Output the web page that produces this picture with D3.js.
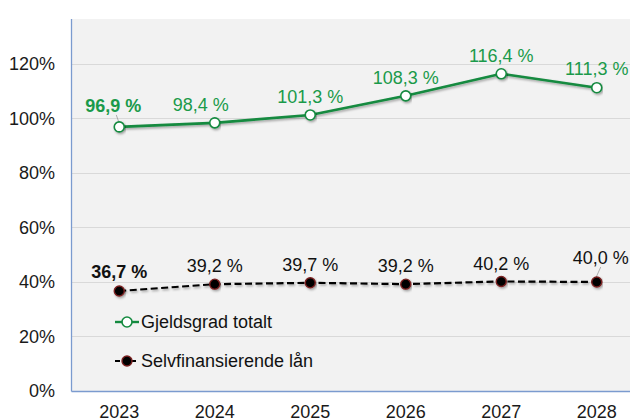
<!DOCTYPE html>
<html>
<head>
<meta charset="utf-8">
<script src="https://cdn.jsdelivr.net/npm/d3@7"></script>
<style>
  html, body { margin: 0; padding: 0; background: #ffffff; }
  svg { display: block; font-family: "Liberation Sans", Arial, sans-serif; }
</style>
</head>
<body>
<svg id="chart" width="630" height="419"></svg>
<script>
const years = ["2023", "2024", "2025", "2026", "2027", "2028"];
const gjeldsgradTotalt = [96.9, 98.4, 101.3, 108.3, 116.4, 111.3];
const selvfinansierendeLan = [36.7, 39.2, 39.7, 39.2, 40.2, 40.0];
const yTicks = [0, 20, 40, 60, 80, 100, 120];
const seriesNames = ["Gjeldsgrad totalt", "Selvfinansierende lån"];

const fmt = v => v.toFixed(1).replace(".", ",") + " %";

const svg = d3.select("#chart");
const plotLeft = 71.5, plotTop = 19, plotBottom = 391;
const FS = 18;

const x = d3.scaleBand().domain(years).range([plotLeft, 644.5]).padding(0);
const y = d3.scaleLinear().domain([0, 136.5]).range([plotBottom, plotTop]);
const cx = d => x(d) + x.bandwidth() / 2;

const defs = svg.append("defs");
const f = defs.append("filter").attr("id", "shadow").attr("x", "-10%").attr("y", "-50%").attr("width", "120%").attr("height", "200%");
f.append("feDropShadow").attr("dx", 1.2).attr("dy", 1.5).attr("stdDeviation", 1.1).attr("flood-color", "#000").attr("flood-opacity", 0.35);

// plot background
svg.append("rect").attr("x", plotLeft).attr("y", plotTop).attr("width", 630 - plotLeft).attr("height", plotBottom - plotTop).attr("fill", "#f2f2f2");

// gridlines
svg.append("g").selectAll("line").data(yTicks.filter(t => t > 0)).join("line")
  .attr("x1", plotLeft).attr("x2", 630)
  .attr("y1", d => Math.round(y(d)) + 0.5).attr("y2", d => Math.round(y(d)) + 0.5)
  .attr("stroke", "#d9d9d9").attr("stroke-width", 1);

// axes
const yAxis = svg.append("g").attr("transform", `translate(${plotLeft},0)`)
  .call(d3.axisLeft(y).tickValues(yTicks).tickFormat(d => d + "%").tickSize(0).tickPadding(16.5));
yAxis.select(".domain").remove();
yAxis.selectAll("text").attr("font-size", FS).attr("fill", "#1a1a1a").attr("font-family", "Liberation Sans, Arial, sans-serif");

const xAxis = svg.append("g").attr("transform", `translate(0,${plotBottom})`)
  .call(d3.axisBottom(x).tickSize(0).tickPadding(14.5));
xAxis.select(".domain").remove();
xAxis.selectAll("text").attr("font-size", FS).attr("fill", "#1a1a1a").attr("font-family", "Liberation Sans, Arial, sans-serif");

svg.append("line").attr("x1", plotLeft).attr("x2", plotLeft).attr("y1", plotTop).attr("y2", plotBottom + 0.5).attr("stroke", "#7b9bcf").attr("stroke-width", 1.3);
svg.append("line").attr("x1", plotLeft).attr("x2", 630).attr("y1", plotBottom + 0.5).attr("y2", plotBottom + 0.5).attr("stroke", "#7b9bcf").attr("stroke-width", 1.3);

const green = "#148a3f";
const greenText = "#1a9a4a";

const line = d3.line().x((d, i) => cx(years[i])).y(d => y(d));

// green series
svg.append("path").datum(gjeldsgradTotalt).attr("d", line).attr("fill", "none")
  .attr("stroke", green).attr("stroke-width", 2.6).attr("filter", "url(#shadow)");
// black series
svg.append("path").datum(selvfinansierendeLan).attr("d", line).attr("fill", "none")
  .attr("stroke", "#000").attr("stroke-width", 2.2).attr("stroke-dasharray", "7,3.5").attr("filter", "url(#shadow)");

// leader lines
const leaders = [
  { s: gjeldsgradTotalt, i: 0, dy: 15 },
  { s: selvfinansierendeLan, i: 5, dy: 18 }
];
svg.append("g").selectAll("line").data(leaders).join("line")
  .attr("x1", d => cx(years[d.i]) - (d.i === 0 ? 3 : -4)).attr("y1", d => y(d.s[d.i]) - d.dy + 3)
  .attr("x2", d => cx(years[d.i]) - 0.5).attr("y2", d => y(d.s[d.i]) - 5)
  .attr("stroke", "#9a9a9a").attr("stroke-width", 0.8);

// markers
svg.append("g").selectAll("circle").data(gjeldsgradTotalt).join("circle")
  .attr("cx", (d, i) => cx(years[i])).attr("cy", d => y(d)).attr("r", 5)
  .attr("fill", "#fff").attr("stroke", green).attr("stroke-width", 1.6).attr("filter", "url(#shadow)");
svg.append("g").selectAll("circle").data(selvfinansierendeLan).join("circle")
  .attr("cx", (d, i) => cx(years[i])).attr("cy", d => y(d)).attr("r", 5)
  .attr("fill", "#000").attr("stroke", "#7a2020").attr("stroke-width", 1.4).attr("filter", "url(#shadow)");

// labels green
const gOff = [15, 12, 12, 12, 12, 12.5];
const gDx = [-6, -14, 0, 0, 0, 0];
svg.append("g").selectAll("text").data(gjeldsgradTotalt).join("text")
  .attr("x", (d, i) => cx(years[i]) + gDx[i]).attr("y", (d, i) => y(d) - gOff[i])
  .attr("text-anchor", "middle").attr("font-size", FS)
  .attr("font-weight", (d, i) => i === 0 ? "bold" : "normal")
  .attr("fill", greenText).text(fmt);

// labels black
const bOff = [13, 12.5, 11.5, 12, 11.5, 18];
const bDx = [0, 0, 0, 0, 0, 4];
svg.append("g").selectAll("text").data(selvfinansierendeLan).join("text")
  .attr("x", (d, i) => cx(years[i]) + bDx[i]).attr("y", (d, i) => y(d) - bOff[i])
  .attr("text-anchor", "middle").attr("font-size", FS)
  .attr("font-weight", (d, i) => i === 0 ? "bold" : "normal")
  .attr("fill", "#111").text(fmt);

// legend
const legend = svg.append("g");
const legY = [322, 361];
seriesNames.forEach((name, k) => {
  const g = legend.append("g").attr("transform", `translate(115,${legY[k]})`);
  g.append("line").attr("x1", 0).attr("x2", 24).attr("y1", 0).attr("y2", 0)
    .attr("stroke", k === 0 ? green : "#000").attr("stroke-width", k === 0 ? 2.4 : 2.2)
    .attr("stroke-dasharray", k === 0 ? null : "5,3");
  g.append("circle").attr("cx", 12).attr("cy", 0).attr("r", 5)
    .attr("fill", k === 0 ? "#fff" : "#000")
    .attr("stroke", k === 0 ? green : "#7a2020").attr("stroke-width", k === 0 ? 1.6 : 1.4);
  g.append("text").attr("x", 26).attr("y", 6).attr("font-size", FS).attr("fill", "#111").text(name);
});
</script>
</body>
</html>
